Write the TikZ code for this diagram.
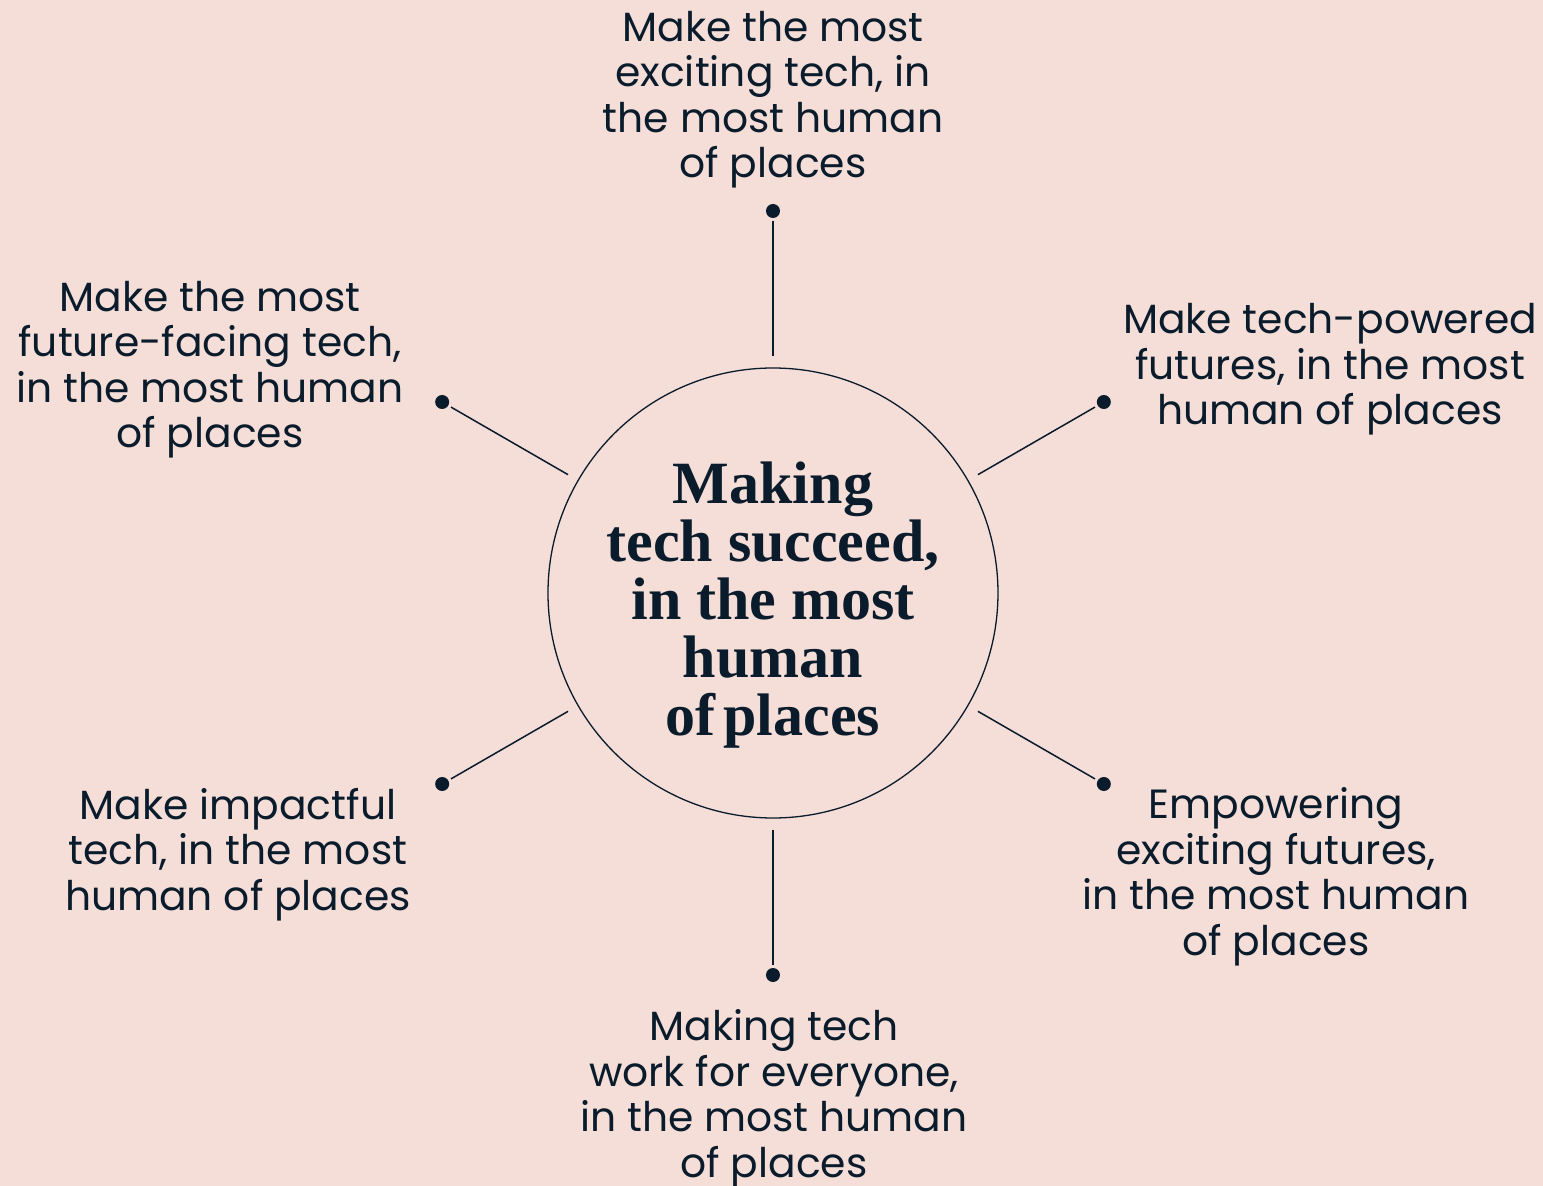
\documentclass[tikz,border=0pt]{standalone}
\usepackage{fontspec}
\setmainfont{Poppins}
\newfontfamily\centerfont{Liberation Serif}
\definecolor{bgpink}{RGB}{245,221,216}
\definecolor{ink}{RGB}{10,28,43}
\begin{document}
\begin{tikzpicture}[x=1pt,y=1pt,
  label/.style={align=center,inner sep=0pt,anchor=base,text=ink,font=\fontsize{40.8}{45.5}\selectfont},
  dotnode/.style={circle,fill=ink,inner sep=0pt,minimum size=14pt},
  spoke/.style={draw=ink,line width=1.5pt,shorten <=3pt,shorten >=11pt}]
\fill[bgpink] (-773,-593) rectangle (770,593);
\useasboundingbox (-773,-593) rectangle (770,593);
\node[circle,draw=ink,line width=1.3pt,minimum size=450pt,inner sep=0pt] (c) at (0,0) {};
\node[align=center,inner sep=0pt,anchor=base,text=ink,font=\centerfont\bfseries\fontsize{60}{58}\selectfont] (ct) at (0,-142)
 {Making\\tech succeed,\\in the most\\human\\of\hspace{-0.12em} places};
\foreach \a/\n in {90/d1,30/d2,-30/d3,-90/d4,210/d5,150/d6}
  \node[dotnode] (\n) at (\a:382) {};
\foreach \n in {d1,d2,d3,d4,d5,d6}
  \draw[spoke] (\n) -- (c);
\node[label] (t1) at (0,415) {Make the most\\exciting tech, in\\the most human\\of places};
\node[label] (t2) at (557,168) {Make tech-powered\\futures, in the most\\human of places};
\node[label] (t3) at (503,-362) {Empowering\\exciting futures,\\in the most human\\of places};
\node[label] (t4) at (1,-584) {Making tech\\work for everyone,\\in the most human\\of places};
\node[label] (t5) at (-535,-317) {Make impactful\\tech, in the most\\human of places};
\node[label] (t6) at (-563,145) {Make the most\\future-facing tech,\\in the most human\\of places};
\end{tikzpicture}
\end{document}
